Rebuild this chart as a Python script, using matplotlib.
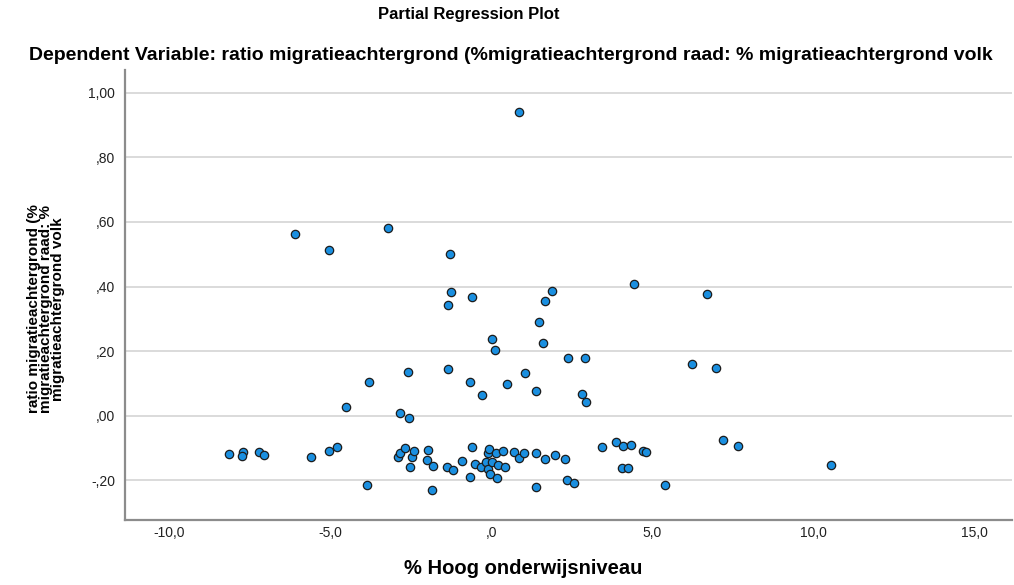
import matplotlib
matplotlib.use("Agg")
import matplotlib.pyplot as plt
from matplotlib.ticker import FuncFormatter

plt.rcParams['font.family'] = ['Liberation Sans', 'DejaVu Sans']

# partial regression residuals
hoog_onderwijs = [
    0.88, -6.09, -5.02, -3.21, -1.27, -1.25, -1.34, -0.58, 1.90, 1.69,
    1.48, 1.62, 0.03, 0.11, 4.43, 2.38, 2.91, 6.23, 6.99, 6.72,
    -2.57, -1.34, -3.79, -0.65, 1.05, 0.49, -0.27, 1.41, 2.83, 2.95,
    -4.51, -2.83, -2.55,
    -8.13, -7.71, -7.73, -7.20, -7.05, -5.60, -5.03, -4.80, -3.85, -2.88,
    -2.83, -2.67, -2.46, -2.52, -2.38, -1.95, -2.00, -1.81, -1.85, -1.36,
    -1.19, -0.89, -0.60, -0.65, -0.50, -0.32, -0.16, -0.11, -0.06, -0.08,
    -0.03, 0.04, 0.16, 0.20, 0.18, 0.36, 0.43, 0.71, 0.87, 1.03,
    1.40, 1.67, 1.98, 2.29, 1.40, 2.36, 2.59, 3.46, 3.87, 4.11,
    4.34, 4.07, 4.26, 4.71, 4.80, 5.41, 7.21, 7.68, 10.57,
]
ratio_migratie = [
    0.941, 0.562, 0.513, 0.582, 0.500, 0.383, 0.344, 0.367, 0.385, 0.356,
    0.290, 0.224, 0.238, 0.203, 0.408, 0.178, 0.180, 0.159, 0.149, 0.377,
    0.135, 0.145, 0.106, 0.105, 0.131, 0.098, 0.065, 0.076, 0.066, 0.043,
    0.028, 0.007, -0.008,
    -0.118, -0.111, -0.124, -0.112, -0.121, -0.127, -0.109, -0.097, -0.215, -0.129,
    -0.116, -0.101, -0.127, -0.160, -0.108, -0.106, -0.137, -0.155, -0.230, -0.158,
    -0.167, -0.139, -0.096, -0.191, -0.150, -0.158, -0.142, -0.116, -0.104, -0.165,
    -0.181, -0.142, -0.115, -0.153, -0.194, -0.109, -0.159, -0.111, -0.132, -0.116,
    -0.116, -0.135, -0.123, -0.135, -0.220, -0.200, -0.209, -0.096, -0.081, -0.094,
    -0.091, -0.163, -0.163, -0.108, -0.113, -0.215, -0.076, -0.093, -0.152,
]

x_ticks = [-10, -5, 0, 5, 10, 15]
y_ticks = [-0.2, 0.0, 0.2, 0.4, 0.6, 0.8, 1.0]


def nl_fmt(decimals):
    # SPSS style: comma decimal, no leading zero
    def f(v, pos):
        s = f"{v:.{decimals}f}".replace('.', ',')
        if s.startswith('0,'):
            s = s[1:]
        elif s.startswith('-0,'):
            s = '-' + s[2:]
        if s.startswith('-') and s.strip('-,0') == '':
            s = s[1:]
        return s
    return FuncFormatter(f)


fig = plt.figure(figsize=(10.14, 5.85), dpi=100)
ax = fig.add_axes([0.1233, 0.111, 0.8747, 0.769])

ax.scatter(hoog_onderwijs, ratio_migratie, s=36, c='#1a8fe0',
           edgecolors='#1c1c1c', linewidths=0.9, zorder=3)

ax.set_xlim(-11.37, 16.18)
ax.set_ylim(-0.323, 1.070)
ax.set_xticks(x_ticks)
ax.set_yticks(y_ticks)
ax.xaxis.set_major_formatter(nl_fmt(1))
ax.yaxis.set_major_formatter(nl_fmt(2))
ax.tick_params(axis='both', length=0, labelsize=10, colors='#222222')
ax.tick_params(axis='x', pad=4)
ax.tick_params(axis='y', pad=7)

ax.grid(axis='y', color='#d4d4d4', linewidth=1.2)
ax.set_axisbelow(True)
for side in ['top', 'right']:
    ax.spines[side].set_visible(False)
for side in ['left', 'bottom']:
    ax.spines[side].set_color('#8c8c8c')
    ax.spines[side].set_linewidth(1.6)

fig.text(469 / 1014, 1 - 15 / 585, 'Partial Regression Plot',
         ha='center', va='center', fontsize=12, fontweight='bold')
fig.text(511 / 1014, 1 - 55 / 585,
         'Dependent Variable: ratio migratieachtergrond (%migratieachtergrond raad: % migratieachtergrond volk',
         ha='center', va='center', fontsize=14, fontweight='bold')
fig.text(523 / 1014, 1 - 568 / 585, '% Hoog onderwijsniveau',
         ha='center', va='center', fontsize=14.5, fontweight='bold')
fig.text(46 / 1014, 1 - 309 / 585,
         'ratio migratieachtergrond (%\nmigratieachtergrond raad: %\nmigratieachtergrond volk',
         ha='center', va='center', rotation=90, fontsize=11,
         fontweight='bold', linespacing=0.82)

fig.savefig('out.png', dpi=100)
